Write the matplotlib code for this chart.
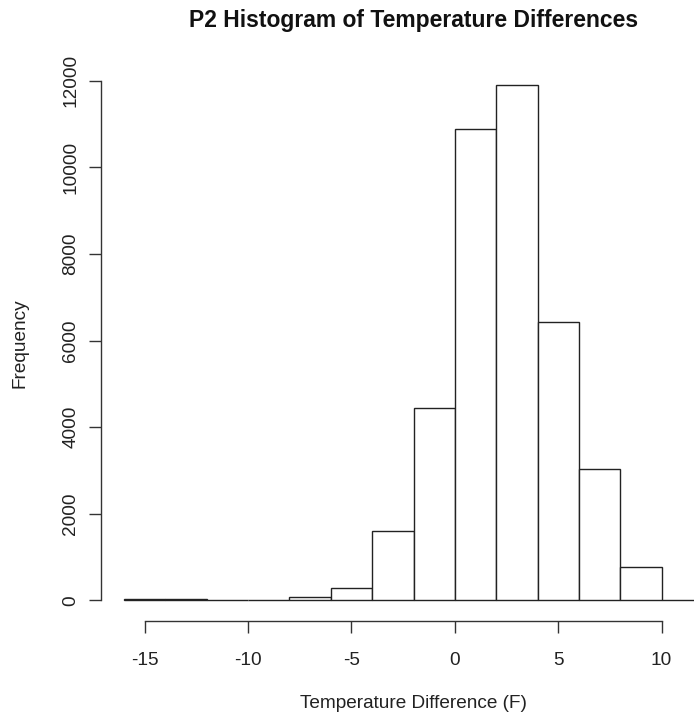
import matplotlib
matplotlib.use("Agg")
import matplotlib.pyplot as plt
import numpy as np

# Data (bins of width 2 from -16 to 12)
bin_edges = [-16, -14, -12, -10, -8, -6, -4, -2, 0, 2, 4, 6, 8, 10, 12]
counts = [30, 22, 14, 8, 83, 277, 1600, 4441, 10878, 11894, 6427, 3032, 769, 15]
x_ticks = [-15, -10, -5, 0, 5, 10]
y_ticks = [0, 2000, 4000, 6000, 8000, 10000, 12000]

title = "P2 Histogram of Temperature Differences"
xlabel = "Temperature Difference (F)"
ylabel = "Frequency"

plt.rcParams['font.family'] = ['Liberation Sans', 'DejaVu Sans']
W, H = 694, 717
fig = plt.figure(figsize=(W / 100, H / 100), dpi=100)

# plot region (pixels): left 101, right 726 (beyond figure edge, cropped), top 64.7, bottom 621
left, right, top, bottom = 101, 726, 64.7, 621
ax = fig.add_axes([left / W, (H - bottom) / H, (right - left) / W, (bottom - top) / H])

lefts = np.array(bin_edges[:-1])
widths = np.diff(bin_edges)
ax.bar(lefts, counts, width=widths, align='edge', facecolor='white',
       edgecolor='#222222', linewidth=1.0)

xr = (bin_edges[0], bin_edges[-1])
pad = 0.04 * (xr[1] - xr[0])
ax.set_xlim(xr[0] - pad, xr[1] + pad)
ymax = max(counts)
ax.set_ylim(-0.04 * ymax, ymax * 1.04)

for s in ['top', 'right']:
    ax.spines[s].set_visible(False)
ax.spines['bottom'].set_bounds(x_ticks[0], x_ticks[-1])
ax.spines['left'].set_bounds(y_ticks[0], y_ticks[-1])
for s in ['bottom', 'left']:
    ax.spines[s].set_linewidth(1.0)
    ax.spines[s].set_color('#333333')

ax.set_xticks(x_ticks)
ax.set_xticklabels([str(v) for v in x_ticks])
ax.set_yticks(y_ticks)
ax.set_yticklabels([str(v) for v in y_ticks], rotation=90, va='center')
ax.tick_params(axis='both', direction='out', length=8.6, width=1.0,
               color='#333333', labelsize=13.7, labelcolor='#222222')
ax.tick_params(axis='x', pad=14)
ax.tick_params(axis='y', pad=7)

ax.text(0.5, (bottom - 20) / (bottom - top), title, transform=ax.transAxes,
        ha='center', va='center', fontsize=16.5, fontweight='bold', color='#111111')
ax.text(0.5, (bottom - 703) / (bottom - top), xlabel, transform=ax.transAxes,
        ha='center', va='center', fontsize=13.7, color='#222222')
ax.text((20 - left) / (right - left), 0.5, ylabel, transform=ax.transAxes,
        ha='center', va='center', rotation=90, fontsize=13.7, color='#222222')

fig.savefig("out.png", dpi=100)
